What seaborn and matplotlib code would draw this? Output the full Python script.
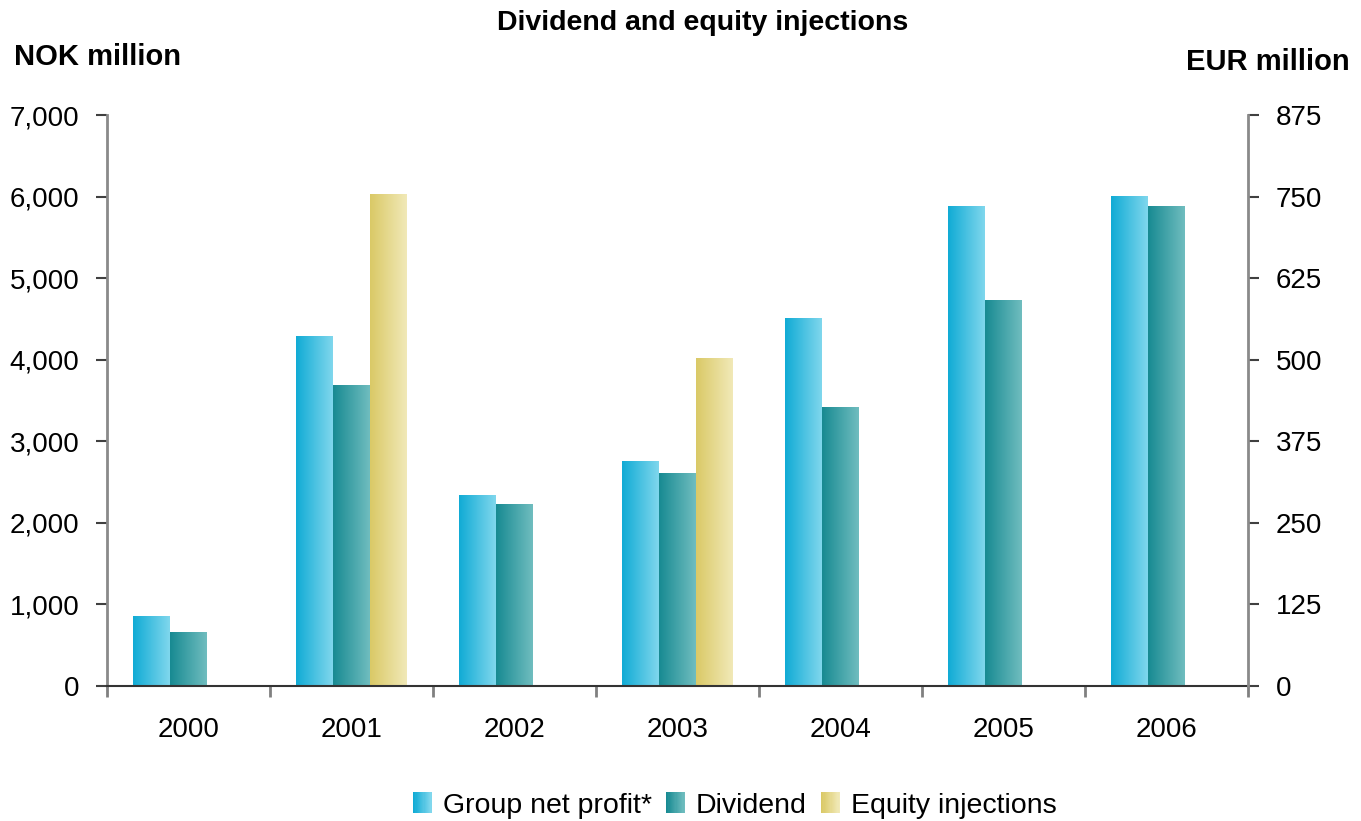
import numpy as np
import pandas as pd
import matplotlib
matplotlib.use("Agg")
import matplotlib.pyplot as plt
import seaborn as sns
from matplotlib.colors import LinearSegmentedColormap
from matplotlib.patches import Rectangle
from matplotlib.legend_handler import HandlerBase
from matplotlib.ticker import FuncFormatter, FixedLocator

# Data (NOK million)
years = ["2000", "2001", "2002", "2003", "2004", "2005", "2006"]
group_net_profit = [850, 4290, 2330, 2750, 4510, 5880, 6000]
dividend = [650, 3680, 2220, 2610, 3420, 4730, 5880]
equity_injections = [np.nan, 6020, np.nan, 4010, np.nan, np.nan, np.nan]
series_names = ["Group net profit*", "Dividend", "Equity injections"]
eur_ticks = [0, 125, 250, 375, 500, 625, 750, 875]

# Horizontal gradients per series (left -> right)
gradients = {
    "Group net profit*": ("#10abd5", "#80d7ed"),
    "Dividend": ("#178a92", "#70bdbf"),
    "Equity injections": ("#dac966", "#f1e9b8"),
}

df = pd.DataFrame({
    "year": years * 3,
    "series": sum([[s] * len(years) for s in series_names], []),
    "value": group_net_profit + dividend + equity_injections,
})

sns.set_theme(style="white")
plt.rcParams["font.family"] = ["Liberation Sans", "DejaVu Sans"]
plt.rcParams["text.color"] = "black"
plt.rcParams["xtick.color"] = "black"
plt.rcParams["ytick.color"] = "black"

fig = plt.figure(figsize=(13.61, 8.21), dpi=100)
ax = fig.add_axes([0.0786, 0.1644, 0.8385, 0.6955])

sns.barplot(data=df, x="year", y="value", hue="series", order=years,
            hue_order=series_names, width=0.68, gap=0, dodge=True,
            palette=[gradients[s][0] for s in series_names],
            errorbar=None, legend=False, ax=ax)

# Replace flat fills with gradient images
for name, container in zip(series_names, ax.containers):
    cmap = LinearSegmentedColormap.from_list(name, gradients[name])
    grad = np.linspace(0, 1, 256).reshape(1, -1)
    for bar in container:
        h = bar.get_height()
        if not np.isfinite(h) or h <= 0:
            bar.set_visible(False)
            continue
        x0, w = bar.get_x(), bar.get_width()
        ax.imshow(grad, cmap=cmap, extent=[x0, x0 + w, 0, h],
                  aspect="auto", interpolation="bicubic", zorder=2)
        bar.set_visible(False)

ax.set_xlim(-0.5, len(years) - 0.5)
ax.set_ylim(0, 7000)
ax.set_xlabel("")
ax.set_ylabel("")
ax.set_yticks(range(0, 7001, 1000))
ax.yaxis.set_major_formatter(FuncFormatter(lambda v, p: f"{int(v):,}"))

# Category boundaries carry the tick marks on the x axis
ax.xaxis.set_minor_locator(FixedLocator(np.arange(-0.5, len(years), 1.0)))
ax.tick_params(axis="x", which="major", length=0, pad=22, labelsize=20, labelcolor="black")
ax.tick_params(axis="x", which="minor", length=8, width=2, color="#808080", direction="out", bottom=True)
ax.tick_params(axis="y", which="major", length=8, width=1.5, color="#404040",
               direction="out", left=True, pad=12, labelsize=20, labelcolor="black")

ax.spines["top"].set_visible(False)
ax.spines["right"].set_visible(False)
ax.spines["left"].set_color("#8a8a8a")
ax.spines["left"].set_linewidth(2)
ax.spines["bottom"].set_color("#333333")
ax.spines["bottom"].set_linewidth(1.5)
ax.set_facecolor("white")

# Secondary EUR axis
ax2 = ax.twinx()
ax2.set_ylim(0, 875)
ax2.set_yticks(eur_ticks)
ax2.yaxis.set_major_formatter(FuncFormatter(lambda v, p: f"{int(v)}"))
ax2.tick_params(axis="y", length=8, width=1.5, color="#404040", direction="out",
                right=True, pad=12, labelsize=20, labelcolor="black")
for side in ["top", "left", "bottom"]:
    ax2.spines[side].set_visible(False)
ax2.spines["right"].set_color("#8a8a8a")
ax2.spines["right"].set_linewidth(2)
ax2.grid(False)
ax.grid(False)

fig.text(0.516, 0.972, "Dividend and equity injections", ha="center", va="center",
         fontsize=20.5, fontweight="bold", color="black")
fig.text(0.010, 0.930, "NOK million", ha="left", va="center", fontsize=21,
         fontweight="bold", color="black")
fig.text(0.992, 0.925, "EUR million", ha="right", va="center", fontsize=21,
         fontweight="bold", color="black")


class GradientSquare(HandlerBase):
    def __init__(self, colors, **kw):
        super().__init__(**kw)
        self.colors = colors

    def create_artists(self, legend, orig_handle, xdescent, ydescent,
                       width, height, fontsize, trans):
        cmap = LinearSegmentedColormap.from_list("h", self.colors)
        n = 16
        arts = []
        for i in range(n):
            r = Rectangle((-xdescent + width * i / n, -ydescent), width / n + 0.3, height,
                          facecolor=cmap(i / (n - 1)), edgecolor="none", transform=trans)
            arts.append(r)
        return arts


handles = [Rectangle((0, 0), 1, 1) for _ in series_names]
handler_map = {h: GradientSquare(gradients[s]) for h, s in zip(handles, series_names)}
leg = fig.legend(handles, series_names, handler_map=handler_map, loc="center",
                 bbox_to_anchor=(0.54, 0.019), ncol=3, frameon=False, fontsize=20.5,
                 handlelength=0.65, handleheight=0.75, handletextpad=0.4,
                 columnspacing=0.5, borderaxespad=0)
for t in leg.get_texts():
    t.set_color("black")

fig.savefig("out.png", dpi=100, facecolor="white")
